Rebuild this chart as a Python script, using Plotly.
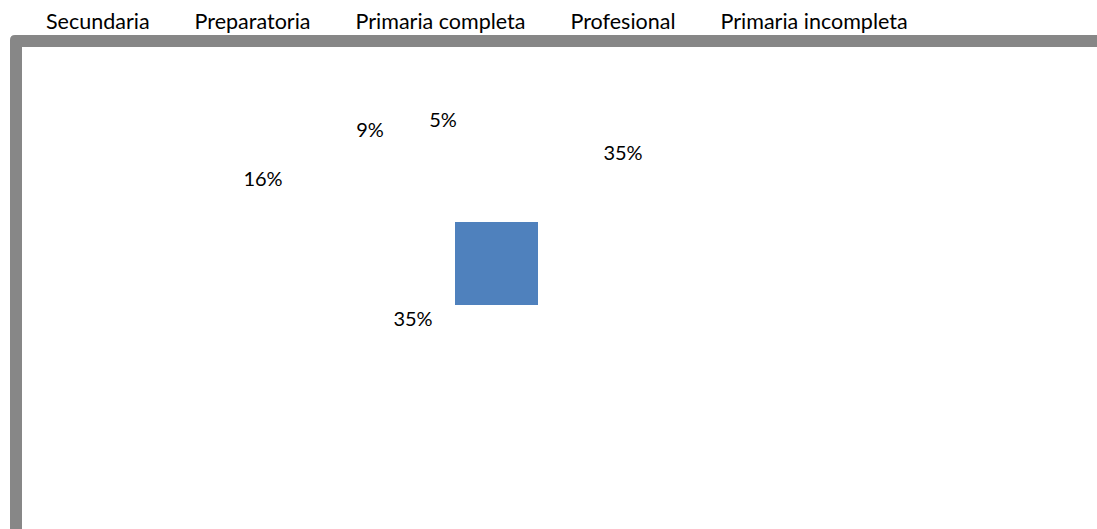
import plotly.graph_objects as go

# ---- data ----
categories = ["Secundaria", "Preparatoria", "Primaria completa", "Profesional", "Primaria incompleta"]
values = [35, 35, 16, 9, 5]
labels = [f"{v}%" for v in values]

# ---- layout positions (pixel space of the 1097x529 canvas) ----
W, H = 1097, 529
label_x = [623, 413, 263, 370, 443]
label_y = [154, 321, 180, 131, 121]
square_x, square_y, square_size = 496.5, 263, 83

FONT = "Lato"
GREY = "#878787"
BLUE = "#4F81BD"

fig = go.Figure()

# legend entries (text only, invisible symbols)
for c in categories:
    fig.add_trace(go.Scatter(x=[None], y=[None], mode="markers", name=c,
                             marker=dict(color="rgba(0,0,0,0)", size=1),
                             hoverinfo="skip"))

# the single visible block
fig.add_trace(go.Scatter(x=[square_x], y=[square_y], mode="markers", showlegend=False,
                         marker=dict(symbol="square", size=square_size, color=BLUE,
                                     line=dict(width=0)),
                         hoverinfo="skip"))

# data labels
fig.add_trace(go.Scatter(x=label_x, y=label_y, mode="text", text=labels, showlegend=False,
                         textposition="middle center",
                         textfont=dict(family=FONT, size=20, color="#000000"),
                         hoverinfo="skip"))

# frame: rounded outer grey, inner white
fig.add_shape(type="path", path="M 10,560 L 10,39 Q 10,34 15,34 L 1120,34 L 1120,560 Z",
              fillcolor=GREY, line=dict(width=0), layer="below", xref="x", yref="y")
fig.add_shape(type="rect", x0=22, y0=46, x1=1120, y1=560,
              fillcolor="white", line=dict(width=0), layer="below", xref="x", yref="y")

fig.update_layout(
    width=W, height=H,
    margin=dict(l=0, r=0, t=0, b=0),
    paper_bgcolor="white", plot_bgcolor="white",
    xaxis=dict(visible=False, range=[0, W], fixedrange=True),
    yaxis=dict(visible=False, range=[H, 0], fixedrange=True),
    showlegend=True,
    legend=dict(orientation="h", x=6 / W, xanchor="left", y=1.002, yanchor="top",
                bgcolor="rgba(0,0,0,0)", borderwidth=0, itemwidth=30,
                font=dict(family=FONT, size=21.5, color="#000000")),
    font=dict(family=FONT, size=20, color="#000000"),
)

fig.write_html("out.html", config={"displayModeBar": False},
               post_script="document.body.style.margin='0px';document.body.style.overflow='hidden';")
